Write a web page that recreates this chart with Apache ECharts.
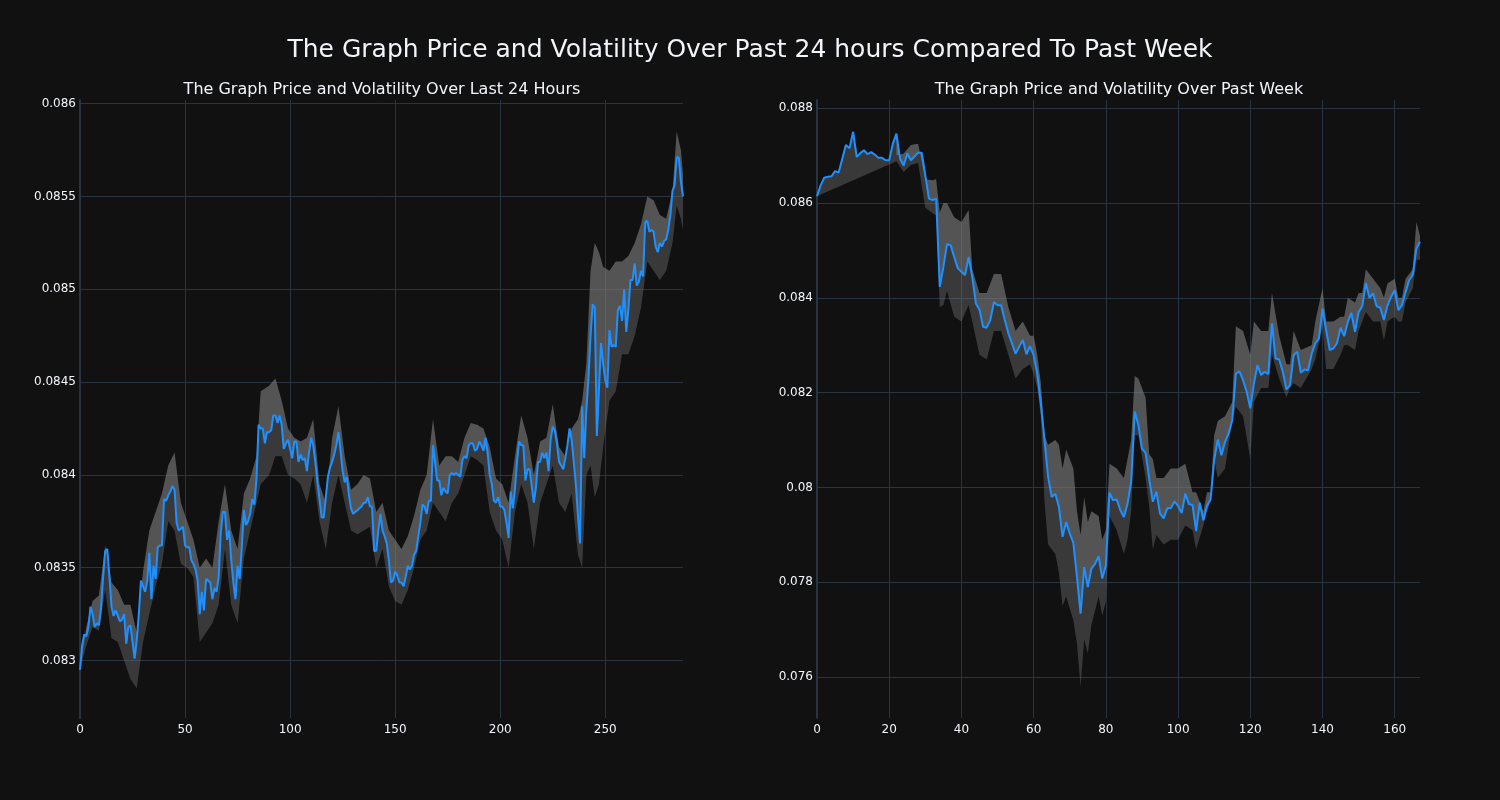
<!DOCTYPE html>
<html>
<head>
<meta charset="utf-8">
<script src="https://cdn.jsdelivr.net/npm/echarts@6/dist/echarts.min.js"></script>
<style>
html,body{margin:0;padding:0;background:#111111;}
#chart{width:1500px;height:800px;}
</style>
</head>
<body>
<div id="chart"></div>
<script>
// ---------- DATA ----------
const mainTitle = "The Graph Price and Volatility Over Past 24 hours Compared To Past Week";
const dayTitle = "The Graph Price and Volatility Over Last 24 Hours";
const weekTitle = "The Graph Price and Volatility Over Past Week";

// Last 24 hours price (index 0..287)
const dayPrice = [
0.08295,0.08308,0.08314,0.08313,0.08318,0.08329,0.08325,0.08318,0.08320,0.08319,
0.08328,0.08345,0.08359,0.08360,0.08345,0.08329,0.08324,0.08327,0.08324,0.08321,
0.08322,0.08325,0.08309,0.08318,0.08319,0.08310,0.08301,0.08311,0.08325,0.08343,
0.08340,0.08337,0.08343,0.08358,0.08333,0.08351,0.08344,0.08361,0.08362,0.08362,
0.08387,0.08386,0.08389,0.08391,0.08394,0.08392,0.08374,0.08370,0.08371,0.08372,
0.08362,0.08361,0.08361,0.08354,0.08352,0.08349,0.08343,0.08325,0.08337,0.08327,
0.08344,0.08343,0.08342,0.08333,0.08339,0.08337,0.08345,0.08369,0.08380,0.08380,
0.08365,0.08370,0.08354,0.08342,0.08333,0.08351,0.08344,0.08361,0.08381,0.08373,
0.08375,0.08379,0.08387,0.08384,0.08398,0.08427,0.08425,0.08425,0.08417,0.08423,
0.08423,0.08424,0.08432,0.08432,0.08428,0.08432,0.08427,0.08414,0.08417,0.08419,
0.08414,0.08409,0.08418,0.08418,0.08407,0.08411,0.08408,0.08409,0.08402,0.08412,
0.08420,0.08416,0.08407,0.08396,0.08387,0.08377,0.08377,0.08388,0.08399,0.08404,
0.08407,0.08411,0.08416,0.08423,0.08413,0.08402,0.08396,0.08399,0.08389,0.08382,
0.08379,0.08380,0.08381,0.08382,0.08383,0.08385,0.08385,0.08388,0.08383,0.08383,
0.08359,0.08359,0.08370,0.08379,0.08370,0.08367,0.08363,0.08354,0.08342,0.08343,
0.08348,0.08346,0.08342,0.08342,0.08340,0.08345,0.08351,0.08349,0.08351,0.08357,
0.08359,0.08367,0.08374,0.08384,0.08383,0.08379,0.08386,0.08386,0.08416,0.08407,
0.08397,0.08397,0.08389,0.08393,0.08391,0.08390,0.08400,0.08401,0.08400,0.08401,
0.08400,0.08399,0.08408,0.08410,0.08409,0.08416,0.08417,0.08417,0.08413,0.08414,
0.08418,0.08416,0.08413,0.08420,0.08412,0.08400,0.08395,0.08386,0.08385,0.08388,
0.08383,0.08383,0.08381,0.08374,0.08366,0.08391,0.08382,0.08392,0.08407,0.08418,
0.08416,0.08416,0.08397,0.08403,0.08403,0.08394,0.08385,0.08393,0.08407,0.08407,
0.08412,0.08409,0.08412,0.08402,0.08419,0.08426,0.08424,0.08417,0.08407,0.08405,
0.08403,0.08409,0.08416,0.08425,0.08419,0.08407,0.08395,0.08378,0.08363,0.08437,
0.08409,0.08435,0.08452,0.08475,0.08492,0.08490,0.08421,0.08446,0.08471,0.08460,
0.08451,0.08447,0.08478,0.08469,0.08470,0.08469,0.08489,0.08491,0.08483,0.08500,
0.08477,0.08489,0.08505,0.08505,0.08514,0.08502,0.08504,0.08510,0.08507,0.08536,
0.08537,0.08531,0.08532,0.08531,0.08523,0.08520,0.08525,0.08523,0.08526,0.08527,
0.08532,0.08540,0.08553,0.08556,0.08571,0.08571,0.08558,0.08550
];
// Last 24 hours volatility band (read at sampled indices)
const dayBandX = [0,3,6,9,12,15,18,21,24,27,30,33,36,39,42,45,48,51,54,57,60,63,66,69,72,75,78,81,84,86,90,93,96,99,102,105,108,111,114,117,120,123,126,129,132,135,138,141,144,147,150,153,156,159,162,165,168,171,174,177,180,183,186,189,192,195,198,201,204,207,210,213,216,219,222,225,228,231,234,237,239,241,243,245,247,249,252,255,258,261,264,267,270,273,276,279,282,284,286,287];
const dayBandLow = [0.08295,0.08308,0.08318,0.08316,0.08338,0.08312,0.08310,0.08300,0.08290,0.08285,0.08310,0.08325,0.08340,0.08352,0.08375,0.08370,0.08352,0.08350,0.08345,0.08310,0.08315,0.08320,0.08330,0.08360,0.08330,0.08320,0.08355,0.08370,0.08385,0.08395,0.08400,0.08410,0.08410,0.08400,0.08398,0.08395,0.08385,0.08400,0.08375,0.08360,0.08385,0.08400,0.08385,0.08370,0.08368,0.08370,0.08372,0.08350,0.08360,0.08340,0.08332,0.08330,0.08338,0.08350,0.08365,0.08370,0.08385,0.08380,0.08375,0.08385,0.08390,0.08400,0.08410,0.08408,0.08405,0.08380,0.08370,0.08365,0.08350,0.08380,0.08395,0.08385,0.08360,0.08385,0.08395,0.08405,0.08385,0.08380,0.08390,0.08357,0.08350,0.08400,0.08405,0.08388,0.08395,0.08415,0.08440,0.08445,0.08465,0.08465,0.08475,0.08490,0.08515,0.08510,0.08505,0.08510,0.08525,0.08545,0.08538,0.08532];
const dayBandHigh = [0.08296,0.08318,0.08332,0.08335,0.08362,0.08342,0.08338,0.08330,0.08330,0.08315,0.08348,0.08370,0.08380,0.08390,0.08405,0.08412,0.08385,0.08375,0.08365,0.08350,0.08355,0.08350,0.08375,0.08395,0.08370,0.08360,0.08390,0.08398,0.08410,0.08445,0.08448,0.08452,0.08440,0.08425,0.08420,0.08418,0.08420,0.08430,0.08395,0.08385,0.08420,0.08437,0.08410,0.08392,0.08395,0.08400,0.08398,0.08380,0.08385,0.08370,0.08365,0.08360,0.08367,0.08378,0.08392,0.08400,0.08430,0.08405,0.08410,0.08410,0.08407,0.08420,0.08428,0.08427,0.08425,0.08415,0.08398,0.08395,0.08385,0.08410,0.08432,0.08420,0.08400,0.08418,0.08420,0.08438,0.08415,0.08410,0.08425,0.08430,0.08440,0.08460,0.08510,0.08525,0.08520,0.08512,0.08510,0.08515,0.08515,0.08518,0.08525,0.08535,0.08550,0.08548,0.08540,0.08538,0.08553,0.08585,0.08575,0.08562];

// Past week price (index 0..167)
const weekPrice = [
0.08614,0.08637,0.08653,0.08655,0.08656,0.08667,0.08664,0.08693,0.08722,0.08715,
0.08750,0.08697,0.08705,0.08711,0.08703,0.08707,0.08702,0.08695,0.08695,0.08690,
0.08690,0.08725,0.08746,0.08693,0.08679,0.08704,0.08690,0.08698,0.08706,0.08706,
0.08658,0.08609,0.08606,0.08609,0.08423,0.08465,0.08513,0.08511,0.08486,0.08462,
0.08455,0.08448,0.08486,0.08444,0.08388,0.08375,0.08339,0.08337,0.08353,0.08391,
0.08384,0.08384,0.08353,0.08325,0.08304,0.08282,0.08297,0.08311,0.08281,0.08298,
0.08279,0.08240,0.08177,0.08100,0.08023,0.07980,0.07987,0.07959,0.07896,0.07927,
0.07903,0.07883,0.07811,0.07734,0.07832,0.07790,0.07829,0.07839,0.07855,0.07808,
0.07836,0.07989,0.07973,0.07975,0.07952,0.07938,0.07966,0.08012,0.08160,0.08132,
0.08082,0.08073,0.08019,0.07970,0.07991,0.07945,0.07935,0.07956,0.07956,0.07971,
0.07961,0.07946,0.07987,0.07965,0.07963,0.07908,0.07968,0.07931,0.07961,0.07975,
0.08058,0.08101,0.08068,0.08096,0.08114,0.08142,0.08240,0.08245,0.08226,0.08202,
0.08167,0.08219,0.08258,0.08237,0.08244,0.08239,0.08346,0.08272,0.08270,0.08244,
0.08207,0.08216,0.08279,0.08286,0.08242,0.08249,0.08247,0.08282,0.08304,0.08314,
0.08377,0.08332,0.08290,0.08293,0.08304,0.08337,0.08319,0.08349,0.08368,0.08328,
0.08370,0.08382,0.08431,0.08400,0.08409,0.08382,0.08379,0.08353,0.08384,0.08402,
0.08416,0.08374,0.08384,0.08412,0.08437,0.08448,0.08504,0.08518
];
// Past week volatility band (read at sampled indices; no upper band before index 22)
const weekBandX = [0,22,24,26,28,30,32,33,34,35,36,38,40,42,43,45,47,49,51,53,55,57,59,60,61,62,63,64,66,67,68,69,71,72,73,74,75,76,78,79,80,81,83,85,86,87,88,89,91,92,93,94,96,98,100,102,104,105,107,108,109,110,111,113,115,116,118,120,121,123,125,126,128,130,131,132,134,137,138,140,141,143,145,146,147,149,150,151,152,154,156,157,158,160,161,162,163,165,166,167];
const weekBandLow = [0.08614,0.08688,0.08665,0.08680,0.08684,0.08590,0.08578,0.08574,0.08380,0.08385,0.08415,0.08360,0.08350,0.08385,0.08350,0.08280,0.08270,0.08330,0.08330,0.08280,0.08230,0.08250,0.08260,0.08240,0.08210,0.08150,0.07970,0.07880,0.07860,0.07820,0.07750,0.07770,0.07720,0.07670,0.07580,0.07680,0.07650,0.07710,0.07770,0.07730,0.07760,0.07940,0.07910,0.07860,0.07890,0.07950,0.08110,0.08110,0.08020,0.07960,0.07870,0.07900,0.07880,0.07890,0.07890,0.07920,0.07910,0.07870,0.07920,0.07950,0.07970,0.08060,0.08020,0.08040,0.08140,0.08170,0.08150,0.08060,0.08180,0.08210,0.08210,0.08280,0.08230,0.08190,0.08210,0.08220,0.08210,0.08250,0.08270,0.08340,0.08250,0.08250,0.08280,0.08300,0.08300,0.08290,0.08330,0.08350,0.08370,0.08350,0.08350,0.08310,0.08350,0.08360,0.08350,0.08350,0.08390,0.08420,0.08480,0.08480];
const weekBandHigh = [null,0.08700,0.08704,0.08722,0.08725,0.08650,0.08648,0.08650,0.08580,0.08600,0.08600,0.08570,0.08560,0.08585,0.08460,0.08410,0.08410,0.08450,0.08450,0.08380,0.08330,0.08350,0.08320,0.08320,0.08280,0.08220,0.08110,0.08090,0.08100,0.08090,0.08040,0.08080,0.08040,0.07950,0.07900,0.07980,0.07927,0.07950,0.07940,0.07890,0.07910,0.08050,0.08040,0.08020,0.08060,0.08100,0.08235,0.08230,0.08190,0.08070,0.08060,0.08020,0.08020,0.08040,0.08040,0.08050,0.07990,0.07990,0.07950,0.07990,0.07990,0.08110,0.08140,0.08150,0.08180,0.08340,0.08330,0.08280,0.08350,0.08330,0.08330,0.08410,0.08320,0.08260,0.08260,0.08330,0.08290,0.08300,0.08350,0.08420,0.08350,0.08350,0.08360,0.08360,0.08400,0.08390,0.08410,0.08410,0.08460,0.08440,0.08420,0.08400,0.08430,0.08440,0.08400,0.08400,0.08440,0.08460,0.08560,0.08530];

// Tick labels
const dayXTicks = [0,50,100,150,200,250];
const dayYTicks = [0.083,0.0835,0.084,0.0845,0.085,0.0855,0.086];
const weekXTicks = [0,20,40,60,80,100,120,140,160];
const weekYTicks = [0.076,0.078,0.08,0.082,0.084,0.086,0.088];

// ---------- BUILD ----------
const FONT = "'DejaVu Sans', 'Open Sans', sans-serif";
const TXT = '#f2f5fa';
const GRIDC = '#283442';
const DARK = 'rgba(128,128,128,0.37)';
const LIGHT = 'rgba(128,128,128,0.61)';

function bandPolys(price, bx, lo, hi) {
  const pricePts = price.map((v, i) => [i, v]);
  const loPts = bx.map((x, i) => [x, lo[i]]).filter(p => p[1] != null);
  const hiPts = bx.map((x, i) => [x, hi[i]]).filter(p => p[1] != null);
  const clip = (pts, a, b) => pts.filter(p => p[0] >= a && p[0] <= b);
  const dark = clip(pricePts, loPts[0][0], loPts[loPts.length - 1][0]).concat(loPts.slice().reverse());
  const light = hiPts.concat(clip(pricePts, hiPts[0][0], hiPts[hiPts.length - 1][0]).reverse());
  return { dark, light };
}

function polySeries(pts, color, idx) {
  return {
    type: 'custom', xAxisIndex: idx, yAxisIndex: idx, z: 1, silent: true,
    data: [pts[0]],
    encode: { x: 0, y: 1 },
    renderItem: function (params, api) {
      return {
        type: 'polygon',
        shape: { points: pts.map(p => api.coord(p)) },
        style: { fill: color }
      };
    }
  };
}

const dayBand = bandPolys(dayPrice, dayBandX, dayBandLow, dayBandHigh);
const weekBand = bandPolys(weekPrice, weekBandX, weekBandLow, weekBandHigh);

function xAxis(idx, max, ticks) {
  return {
    type: 'value', gridIndex: idx, min: 0, max: max,
    axisLine: { show: false }, axisTick: { show: false, customValues: ticks },
    splitLine: { show: true, lineStyle: { color: GRIDC, width: 1 } },
    axisLabel: { customValues: ticks, color: TXT, fontSize: 12, fontFamily: FONT, margin: 6 }
  };
}
function yAxis(idx, min, max, ticks) {
  return {
    type: 'value', gridIndex: idx, min: min, max: max, scale: true,
    axisLine: { show: true, lineStyle: { color: GRIDC, width: 2 } },
    axisTick: { show: false, customValues: ticks },
    splitLine: { show: true, lineStyle: { color: GRIDC, width: 1 } },
    axisLabel: { customValues: ticks, color: TXT, fontSize: 12, fontFamily: FONT, margin: 4,
      formatter: v => String(+v.toPrecision(6)) }
  };
}

const option = {
  backgroundColor: '#111111',
  animation: false,
  title: [
    { text: mainTitle, left: 'center', top: 38, padding: 0,
      textStyle: { color: TXT, fontSize: 25, fontWeight: 'normal', fontFamily: FONT } },
    { text: dayTitle, left: 382, textAlign: 'center', top: 82, padding: 0,
      textStyle: { color: TXT, fontSize: 16, fontWeight: 'normal', fontFamily: FONT } },
    { text: weekTitle, left: 1119, textAlign: 'center', top: 82, padding: 0,
      textStyle: { color: TXT, fontSize: 16, fontWeight: 'normal', fontFamily: FONT } }
  ],
  grid: [
    { left: 80, right: 817, top: 100, bottom: 82, containLabel: false },
    { left: 817, right: 80, top: 100, bottom: 82, containLabel: false }
  ],
  xAxis: [ xAxis(0, 287, dayXTicks), xAxis(1, 167, weekXTicks) ],
  yAxis: [ yAxis(0, 0.08269, 0.08602, dayYTicks), yAxis(1, 0.07514, 0.08817, weekYTicks) ],
  series: [
    polySeries(dayBand.dark, DARK, 0),
    polySeries(dayBand.light, LIGHT, 0),
    polySeries(weekBand.dark, DARK, 1),
    polySeries(weekBand.light, LIGHT, 1),
    { type: 'line', xAxisIndex: 0, yAxisIndex: 0, z: 3, showSymbol: false, silent: true,
      data: dayPrice.map((v, i) => [i, v]),
      lineStyle: { color: '#1e90ff', width: 2 } },
    { type: 'line', xAxisIndex: 1, yAxisIndex: 1, z: 3, showSymbol: false, silent: true,
      data: weekPrice.map((v, i) => [i, v]),
      lineStyle: { color: '#1e90ff', width: 2 } }
  ]
};

const chart = echarts.init(document.getElementById('chart'), null, { renderer: 'canvas' });
chart.setOption(option);
</script>
</body>
</html>
